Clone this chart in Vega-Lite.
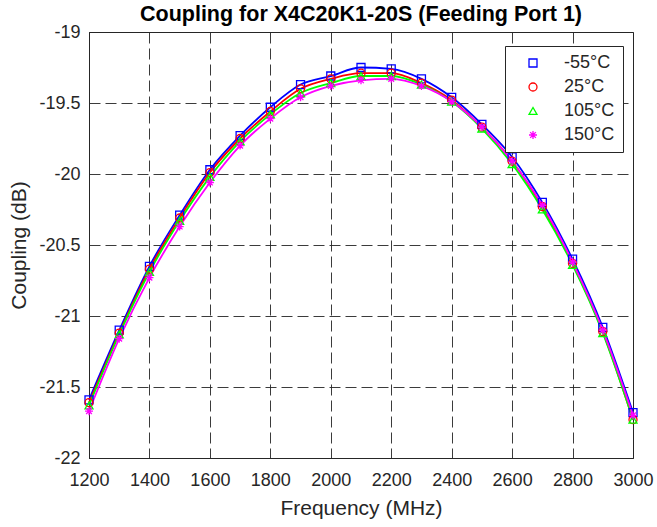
{
  "$schema": "https://vega.github.io/schema/vega-lite/v6.json",
  "width": 544,
  "height": 426,
  "autosize": {"type": "none"},
  "padding": {"left": 89, "top": 32, "right": 24, "bottom": 69},
  "background": "white",
  "title": {
    "text": "Coupling for X4C20K1-20S (Feeding Port 1)",
    "font": "Liberation Sans",
    "fontSize": 21.5,
    "fontWeight": "bold",
    "color": "black",
    "anchor": "middle",
    "frame": "group",
    "offset": -2
  },
  "data": {
    "values": [
      {"f": 1200, "temp": "-55°C", "db": -21.59},
      {"f": 1300, "temp": "-55°C", "db": -21.10},
      {"f": 1400, "temp": "-55°C", "db": -20.65},
      {"f": 1500, "temp": "-55°C", "db": -20.29},
      {"f": 1600, "temp": "-55°C", "db": -19.97},
      {"f": 1700, "temp": "-55°C", "db": -19.73},
      {"f": 1800, "temp": "-55°C", "db": -19.53},
      {"f": 1900, "temp": "-55°C", "db": -19.37},
      {"f": 2000, "temp": "-55°C", "db": -19.31},
      {"f": 2100, "temp": "-55°C", "db": -19.25},
      {"f": 2200, "temp": "-55°C", "db": -19.26},
      {"f": 2300, "temp": "-55°C", "db": -19.33},
      {"f": 2400, "temp": "-55°C", "db": -19.46},
      {"f": 2500, "temp": "-55°C", "db": -19.65},
      {"f": 2600, "temp": "-55°C", "db": -19.88},
      {"f": 2700, "temp": "-55°C", "db": -20.20},
      {"f": 2800, "temp": "-55°C", "db": -20.60},
      {"f": 2900, "temp": "-55°C", "db": -21.08},
      {"f": 3000, "temp": "-55°C", "db": -21.68},
      {"f": 1200, "temp": "25°C", "db": -21.61},
      {"f": 1300, "temp": "25°C", "db": -21.12},
      {"f": 1400, "temp": "25°C", "db": -20.67},
      {"f": 1500, "temp": "25°C", "db": -20.31},
      {"f": 1600, "temp": "25°C", "db": -19.99},
      {"f": 1700, "temp": "25°C", "db": -19.75},
      {"f": 1800, "temp": "25°C", "db": -19.56},
      {"f": 1900, "temp": "25°C", "db": -19.40},
      {"f": 2000, "temp": "25°C", "db": -19.33},
      {"f": 2100, "temp": "25°C", "db": -19.29},
      {"f": 2200, "temp": "25°C", "db": -19.29},
      {"f": 2300, "temp": "25°C", "db": -19.36},
      {"f": 2400, "temp": "25°C", "db": -19.48},
      {"f": 2500, "temp": "25°C", "db": -19.67},
      {"f": 2600, "temp": "25°C", "db": -19.91},
      {"f": 2700, "temp": "25°C", "db": -20.23},
      {"f": 2800, "temp": "25°C", "db": -20.63},
      {"f": 2900, "temp": "25°C", "db": -21.11},
      {"f": 3000, "temp": "25°C", "db": -21.73},
      {"f": 1200, "temp": "105°C", "db": -21.63},
      {"f": 1300, "temp": "105°C", "db": -21.13},
      {"f": 1400, "temp": "105°C", "db": -20.69},
      {"f": 1500, "temp": "105°C", "db": -20.33},
      {"f": 1600, "temp": "105°C", "db": -20.02},
      {"f": 1700, "temp": "105°C", "db": -19.77},
      {"f": 1800, "temp": "105°C", "db": -19.58},
      {"f": 1900, "temp": "105°C", "db": -19.43},
      {"f": 2000, "temp": "105°C", "db": -19.36},
      {"f": 2100, "temp": "105°C", "db": -19.31},
      {"f": 2200, "temp": "105°C", "db": -19.31},
      {"f": 2300, "temp": "105°C", "db": -19.37},
      {"f": 2400, "temp": "105°C", "db": -19.49},
      {"f": 2500, "temp": "105°C", "db": -19.68},
      {"f": 2600, "temp": "105°C", "db": -19.93},
      {"f": 2700, "temp": "105°C", "db": -20.25},
      {"f": 2800, "temp": "105°C", "db": -20.64},
      {"f": 2900, "temp": "105°C", "db": -21.12},
      {"f": 3000, "temp": "105°C", "db": -21.73},
      {"f": 1200, "temp": "150°C", "db": -21.67},
      {"f": 1300, "temp": "150°C", "db": -21.16},
      {"f": 1400, "temp": "150°C", "db": -20.73},
      {"f": 1500, "temp": "150°C", "db": -20.37},
      {"f": 1600, "temp": "150°C", "db": -20.06},
      {"f": 1700, "temp": "150°C", "db": -19.80},
      {"f": 1800, "temp": "150°C", "db": -19.61},
      {"f": 1900, "temp": "150°C", "db": -19.46},
      {"f": 2000, "temp": "150°C", "db": -19.38},
      {"f": 2100, "temp": "150°C", "db": -19.34},
      {"f": 2200, "temp": "150°C", "db": -19.33},
      {"f": 2300, "temp": "150°C", "db": -19.38},
      {"f": 2400, "temp": "150°C", "db": -19.49},
      {"f": 2500, "temp": "150°C", "db": -19.67},
      {"f": 2600, "temp": "150°C", "db": -19.91},
      {"f": 2700, "temp": "150°C", "db": -20.22},
      {"f": 2800, "temp": "150°C", "db": -20.62},
      {"f": 2900, "temp": "150°C", "db": -21.10},
      {"f": 3000, "temp": "150°C", "db": -21.70}
    ]
  },
  "encoding": {
    "x": {
      "field": "f",
      "type": "quantitative",
      "title": "Frequency (MHz)",
      "scale": {"domain": [1200, 3000], "nice": false, "zero": false},
      "axis": {
        "values": [1200, 1400, 1600, 1800, 2000, 2200, 2400, 2600, 2800, 3000],
        "labelExpr": "'' + datum.value",
        "labelFlush": false,
        "labelOverlap": false,
        "labelPadding": 13,
        "titlePadding": 8
      }
    },
    "y": {
      "field": "db",
      "type": "quantitative",
      "title": "Coupling (dB)",
      "scale": {"domain": [-22, -19], "nice": false, "zero": false},
      "axis": {
        "values": [-22, -21.5, -21, -20.5, -20, -19.5, -19],
        "labelExpr": "'' + datum.value",
        "labelFlush": false,
        "labelOverlap": false,
        "labelPadding": 9,
        "titlePadding": 9
      }
    },
    "color": {
      "field": "temp",
      "type": "nominal",
      "scale": {
        "domain": ["-55°C", "25°C", "105°C", "150°C"],
        "range": ["#0000FF", "#FF0000", "#00FF00", "#FF00FF"]
      },
      "legend": {
        "title": null,
        "orient": "none",
        "legendX": 416,
        "legendY": 14
      }
    }
  },
  "layer": [
    {
      "mark": {"type": "line", "interpolate": "monotone", "strokeWidth": 1.8},
      "encoding": {"detail": {"field": "temp", "type": "nominal"}}
    },
    {
      "mark": {"type": "point", "filled": false, "size": 64, "strokeWidth": 1.3, "opacity": 1},
      "encoding": {
        "shape": {
          "field": "temp",
          "type": "nominal",
          "scale": {
            "domain": ["-55°C", "25°C", "105°C", "150°C"],
            "range": ["square", "circle", "triangle-up", "M-1,0L1,0M0,-1L0,1M-0.71,-0.71L0.71,0.71M-0.71,0.71L0.71,-0.71"]
          },
          "legend": {
            "title": null,
            "orient": "none",
            "legendX": 416,
            "legendY": 14
          }
        }
      }
    }
  ],
  "config": {
    "font": "Liberation Sans",
    "view": {"stroke": "#262626", "strokeWidth": 1},
    "axis": {
      "grid": true,
      "gridColor": "#262626",
      "gridDash": [11, 5],
      "gridWidth": 1,
      "gridOpacity": 0.9,
      "ticks": false,
      "domainColor": "#262626",
      "domainWidth": 1,
      "labelFont": "Liberation Sans",
      "labelFontSize": 18,
      "labelColor": "#262626",
      "titleFont": "Liberation Sans",
      "titleFontSize": 21,
      "titleFontWeight": "normal",
      "titleColor": "#262626"
    },
    "legend": {
      "labelFont": "Liberation Sans",
      "labelFontSize": 18,
      "labelColor": "#262626",
      "symbolSize": 64,
      "symbolStrokeWidth": 1.3,
      "padding": 8,
      "rowPadding": 6,
      "strokeColor": "#262626",
      "fillColor": "white",
      "labelOffset": 22,
      "symbolOffset": 11
    }
  }
}
